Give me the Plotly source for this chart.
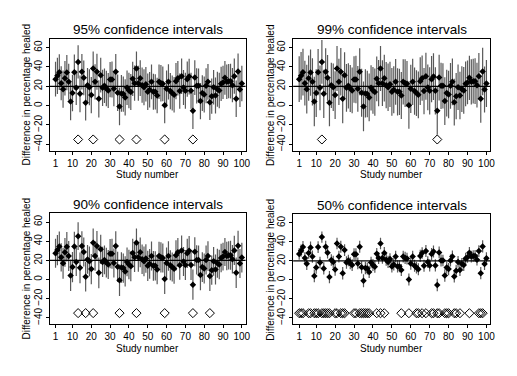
import plotly.graph_objects as go

studies = list(range(1, 101))
estimates = [27.4, 30.8, 34.6, 23.2, 17.0, 28.4, 34.2, 24.6, 4.3, 13.0,
             34.6, 18.4, 45.2, 12.2, 35.0, 28.7, 3.0, 21.0, 19.0, 10.9,
             38.4, 24.6, 35.0, 7.0, 31.5, 18.4, 20.5, 17.7, 15.7, 27.0,
             27.0, 17.4, 35.0, 13.3, -0.8, 12.6, 12.0, 8.5, 18.4, 15.7,
             14.0, 27.7, 23.2, 38.4, 23.2, 28.4, 21.2, 19.0, 22.0, 14.3,
             16.4, 24.6, 14.3, 14.3, 10.5, 24.6, 23.2, 22.5, 0.5, 17.4,
             24.6, 15.0, 13.0, 11.2, 25.3, 28.4, 15.0, 30.4, 18.8, 15.3,
             27.4, 30.0, 15.3, -5.3, 29.0, 20.5, 20.5, 4.7, 13.0, 11.5,
             20.5, 24.6, 3.6, 9.8, 19.0, 10.5, 17.0, 15.7, 22.5, 24.0,
             28.7, 24.6, 25.3, 25.3, 21.2, 30.4, 7.1, 35.3, 16.7, 22.9]
std_errors = [9.2, 9.6, 9.4, 9.0, 9.8, 9.1, 9.3, 9.5, 9.9, 9.6,
              9.3, 9.0, 8.8, 9.7, 9.4, 9.2, 9.4, 9.1, 9.5, 9.6,
              9.0, 9.3, 9.5, 9.8, 9.2, 9.6, 9.1, 9.4, 9.2, 9.3,
              9.5, 9.2, 9.4, 9.6, 10.0, 9.7, 9.3, 9.6, 9.1, 9.4,
              9.5, 9.0, 9.3, 9.0, 9.2, 9.4, 9.3, 9.5, 9.1, 9.6,
              9.4, 9.2, 9.5, 9.3, 9.4, 9.1, 9.6, 9.2, 9.5, 9.7,
              9.3, 9.5, 9.2, 9.4, 9.6, 9.1, 9.3, 9.4, 9.2, 9.5,
              9.3, 9.4, 9.5, 9.6, 9.2, 9.3, 9.1, 9.6, 9.4, 9.5,
              9.2, 9.4, 9.4, 9.3, 9.1, 9.5, 9.2, 9.4, 9.0, 8.8,
              8.9, 9.1, 9.0, 9.2, 9.0, 9.3, 9.6, 9.5, 9.2, 9.4]
true_difference = 20
panel_titles = ["95% confidence intervals", "99% confidence intervals",
                "90% confidence intervals", "50% confidence intervals"]
z_values = [1.96, 2.576, 1.645, 0.674]
marker_level = -35
x_ticks = [1, 10, 20, 30, 40, 50, 60, 70, 80, 90, 100]
y_ticks = [-40, -20, 0, 20, 40, 60]

W, H = 517, 376
panels = [  # (left, right, top, bottom) in px
    (50, 248, 39, 151),
    (296, 495, 39, 151),
    (50, 248, 214, 325),
    (296, 495, 215, 325),
]
FONT = "Liberation Sans, Arial, sans-serif"

fig = go.Figure()
layout = dict(width=W, height=H, margin=dict(l=0, r=0, t=0, b=0),
              paper_bgcolor="white", plot_bgcolor="white", showlegend=False,
              font=dict(family=FONT, color="black"))
annotations = []
shapes = []

for k, (title, z, (l, r, t, b)) in enumerate(zip(panel_titles, z_values, panels)):
    n = "" if k == 0 else str(k + 1)
    xa, ya = "x" + n, "y" + n
    hw = [z * s for s in std_errors]
    fig.add_trace(go.Scatter(
        x=studies, y=estimates, xaxis=xa, yaxis=ya, mode="markers",
        marker=dict(symbol="diamond", size=5, color="black"),
        error_y=dict(type="data", array=hw, symmetric=True, color="#595959",
                     thickness=1.2, width=0),
    ))
    ex = [s for s, e, h in zip(studies, estimates, hw) if abs(e - true_difference) > h]
    fig.add_trace(go.Scatter(
        x=ex, y=[marker_level] * len(ex), xaxis=xa, yaxis=ya, mode="markers",
        marker=dict(symbol="diamond-open", size=7, color="black",
                    line=dict(width=1, color="black")),
    ))
    shapes.append(dict(type="line", xref=xa + " domain", yref=ya, x0=0, x1=1,
                       y0=true_difference, y1=true_difference,
                       line=dict(color="black", width=1.2)))
    layout["xaxis" + n] = dict(
        domain=[l / W, r / W], range=[-2.2, 102], anchor=ya,
        tickvals=x_ticks, ticks="outside", ticklen=3, tickcolor="black",
        showline=True, linecolor="black", linewidth=1, mirror=True,
        showgrid=False, zeroline=False, tickfont=dict(size=10, family=FONT))
    layout["yaxis" + n] = dict(
        domain=[1 - b / H, 1 - t / H], range=[-46.5, 69], anchor=xa,
        tickvals=y_ticks, ticks="outside", ticklen=3, tickcolor="black",
        tickangle=-90, showline=True, linecolor="black", linewidth=1,
        mirror=True, showgrid=False, zeroline=False,
        tickfont=dict(size=10, family=FONT))
    cx = (l + r) / 2
    annotations.append(dict(text=title, x=cx / W, y=1 - (t - 9) / H,
                            xref="paper", yref="paper", showarrow=False,
                            xanchor="center", yanchor="middle",
                            font=dict(size=13.5, family=FONT)))
    annotations.append(dict(text="Study number", x=cx / W, y=1 - (b + 24) / H,
                            xref="paper", yref="paper", showarrow=False,
                            xanchor="center", yanchor="middle",
                            font=dict(size=10, family=FONT)))
    annotations.append(dict(text="Difference in percentage healed",
                            x=(l - 23) / W, y=1 - ((t + b) / 2) / H,
                            xref="paper", yref="paper", showarrow=False,
                            textangle=-90, xanchor="center", yanchor="middle",
                            font=dict(size=10, family=FONT)))

layout["annotations"] = annotations
layout["shapes"] = shapes
fig.update_layout(**layout)
fig.write_html("out.html", config={"displayModeBar": False},
               post_script="document.body.style.margin='0';")
